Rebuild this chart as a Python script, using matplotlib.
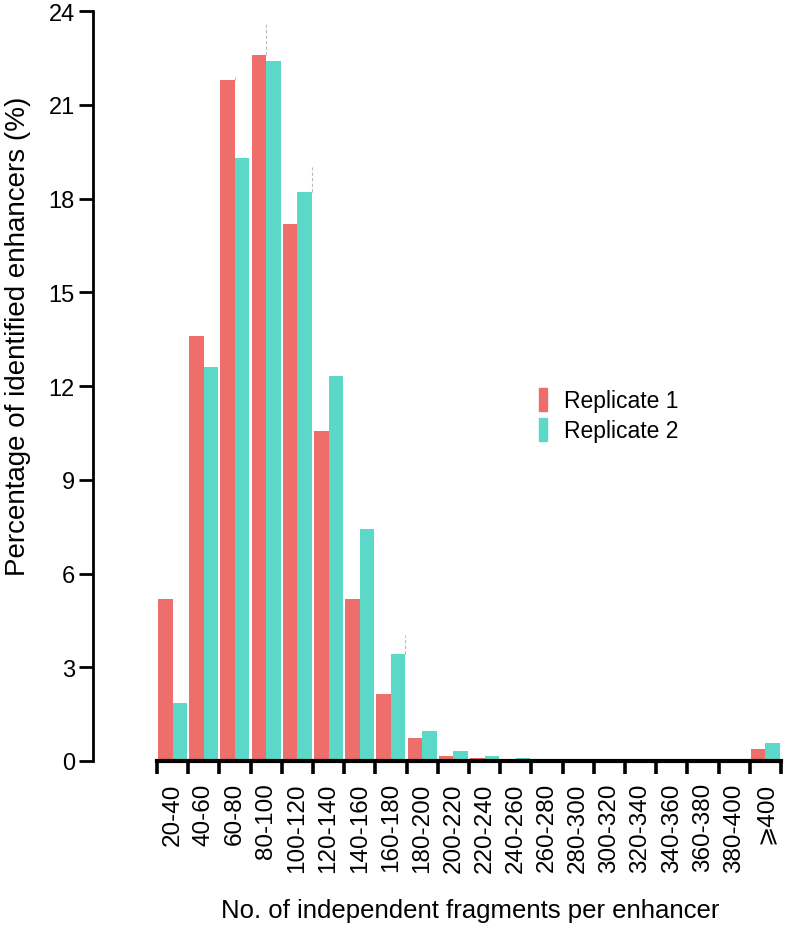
import matplotlib
matplotlib.use("Agg")
import matplotlib.pyplot as plt
from matplotlib.patches import Patch
import numpy as np

categories = ["20-40", "40-60", "60-80", "80-100", "100-120", "120-140", "140-160",
              "160-180", "180-200", "200-220", "220-240", "240-260", "260-280",
              "280-300", "300-320", "320-340", "340-360", "360-380", "380-400", "\u2a7e400"]
rep1 = [5.2, 13.6, 21.8, 22.6, 17.2, 10.55, 5.2, 2.15, 0.74, 0.17, 0.10, 0.07, 0.04,
        0.02, 0.03, 0.01, 0.01, 0.01, 0.04, 0.38]
rep2 = [1.87, 12.6, 19.3, 22.4, 18.2, 12.33, 7.44, 3.43, 0.95, 0.33, 0.15, 0.10, 0.05,
        0.06, 0.02, 0.05, 0.05, 0.02, 0.01, 0.57]
err1 = [0, 0, 0.1, 1.0, 0, 0, 0, 0, 0, 0, 0, 0, 0, 0, 0, 0, 0, 0, 0, 0]
err2 = [0, 0, 0, 0, 0.8, 0, 0, 0.6, 0, 0, 0, 0, 0, 0, 0, 0, 0, 0, 0, 0]
yticks = [0, 3, 6, 9, 12, 15, 18, 21, 24]
labels = ["Replicate 1", "Replicate 2"]
c1, c2 = "#EE6E6B", "#5CD8C8"

plt.rcParams['font.family'] = ['Liberation Sans', 'DejaVu Sans']

W, H = 789, 928
fig = plt.figure(figsize=(W / 100, H / 100), dpi=100)
ax = fig.add_axes([93 / W, (H - 762) / H, (785 - 93) / W, (762 - 12) / H])

x = np.arange(len(categories))
bw = 0.465
ax.bar(x + 0.035, rep1, width=bw, align='edge', color=c1, zorder=2)
ax.bar(x + 0.5, rep2, width=bw, align='edge', color=c2, zorder=2)

for xs, vals, errs in ((x + 0.035 + bw, rep1, err1), (x + 0.5 + bw, rep2, err2)):
    for xi, v, e in zip(xs, vals, errs):
        if e > 0:
            ax.plot([xi, xi], [v, v + e], ls=(0, (3, 2)), color='#bbbbbb', lw=0.8, zorder=1)

ax.set_xlim(-2.05, 20.13)
ax.set_ylim(0, 24)
for s in ('top', 'right'):
    ax.spines[s].set_visible(False)
ax.spines['left'].set_bounds(0, 24)
ax.spines['left'].set_linewidth(2.0)
ax.spines['bottom'].set_bounds(0, 20)
ax.spines['bottom'].set_linewidth(3.0)

ax.set_yticks(yticks)
ax.set_yticklabels([str(t) for t in yticks], fontsize=17)
ax.tick_params(axis='y', length=10, width=2.0, pad=3)

ax.set_xticks(np.arange(len(categories) + 1))
ax.set_xticklabels([])
ax.tick_params(axis='x', length=9.5, width=2.6)
for i, c in enumerate(categories):
    ax.text(i + 0.5, -0.68, c, rotation=90, ha='center', va='top', fontsize=17.5)

fig.text(18 / W, 1 - 336 / H, "Percentage of identified enhancers (%)", rotation=90,
         ha='center', va='center', fontsize=20)
fig.text(470 / W, 1 - 911 / H, "No. of independent fragments per enhancer",
         ha='center', va='center', fontsize=18.5)

handles = [Patch(color=c1), Patch(color=c2)]
ax.legend(handles, labels, loc='center left', bbox_to_anchor=(539 / W, 1 - 416 / H),
          bbox_transform=fig.transFigure, frameon=False, fontsize=16.5,
          handlelength=0.35, handleheight=1.15, handletextpad=0.75, labelspacing=0.25,
          borderpad=0, borderaxespad=0)

fig.savefig("out.png", dpi=100)
